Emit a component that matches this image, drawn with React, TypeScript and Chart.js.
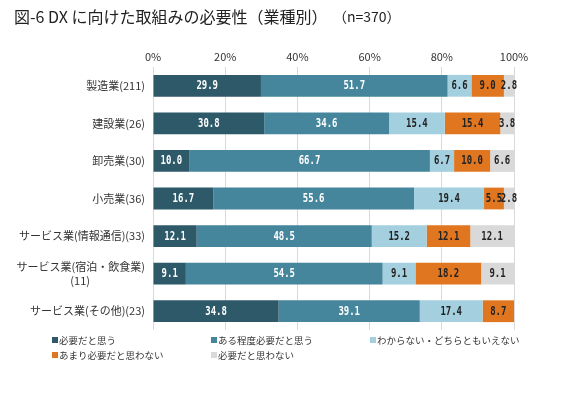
import React, { useEffect, useRef } from "react";
import { Chart, registerables } from "chart.js";

Chart.register(...registerables);

const categories: (string | string[])[] = [
  "製造業(211)",
  "建設業(26)",
  "卸売業(30)",
  "小売業(36)",
  "サービス業(情報通信)(33)",
  ["サービス業(宿泊・飲食業)", "(11)　　　　　"],
  "サービス業(その他)(23)",
];
const seriesNames = [
  "必要だと思う",
  "ある程度必要だと思う",
  "わからない・どちらともいえない",
  "あまり必要だと思わない",
  "必要だと思わない",
];
const needed = [29.9, 30.8, 10.0, 16.7, 12.1, 9.1, 34.8];
const somewhatNeeded = [51.7, 34.6, 66.7, 55.6, 48.5, 54.5, 39.1];
const unsure = [6.6, 15.4, 6.7, 19.4, 15.2, 9.1, 17.4];
const notReally = [9.0, 15.4, 10.0, 5.5, 12.1, 18.2, 8.7];
const notNeeded = [2.8, 3.8, 6.6, 2.8, 12.1, 9.1, 0];
const xTickValues = [0, 20, 40, 60, 80, 100];

const titleText = "図-6 DX に向けた取組みの必要性（業種別）";
const subtitleText = "（n=370）";

const colors = ["#2d5969", "#45869d", "#a4cfdf", "#e0761f", "#d9d9d9"];
const labelColors = ["#ffffff", "#ffffff", "#222222", "#222222", "#222222"];

const JP = '"Noto Sans CJK JP", "Noto Sans", sans-serif';
const NUM = '"DejaVu Sans Mono", monospace';

const dataLabelPlugin = {
  id: "dataLabels",
  afterDatasetsDraw(chart: any) {
    const ctx = chart.ctx;
    chart.data.datasets.forEach((ds: any, di: number) => {
      const meta = chart.getDatasetMeta(di);
      meta.data.forEach((bar: any, i: number) => {
        const v = ds.data[i];
        if (!v) return;
        const cx = (bar.x + bar.base) / 2;
        ctx.save();
        ctx.font = `bold 11.5px ${NUM}`;
        ctx.textAlign = "center";
        ctx.textBaseline = "middle";
        ctx.fillStyle = labelColors[di];
        ctx.translate(cx, bar.y + 0.5);
        ctx.scale(0.78, 1);
        ctx.fillText(v.toFixed(1), 0, 0);
        ctx.restore();
      });
    });
  },
};

const titleLegendPlugin = {
  id: "titleLegend",
  afterDraw(chart: any) {
    const ctx = chart.ctx;
    ctx.save();
    ctx.fillStyle = "#222222";
    ctx.textBaseline = "middle";
    ctx.textAlign = "left";
    ctx.font = `16px ${JP}`;
    ctx.fillText(titleText, 14, 17);
    ctx.font = `14px ${JP}`;
    ctx.fillText(subtitleText, 333, 17);

    const cols = [52, 211, 370];
    const rows = [340, 355];
    ctx.font = `9.5px ${JP}`;
    seriesNames.forEach((name, i) => {
      const x = cols[i % 3];
      const y = rows[Math.floor(i / 3)];
      ctx.fillStyle = colors[i];
      ctx.fillRect(x, y - 3, 6, 6);
      ctx.fillStyle = "#333333";
      ctx.fillText(name, x + 7, y);
    });
    ctx.restore();
  },
};

export default function App() {
  const ref = useRef<HTMLCanvasElement>(null);
  useEffect(() => {
    document.body.style.margin = "0";
    const datasetsData = [needed, somewhatNeeded, unsure, notReally, notNeeded];
    const chart = new Chart(ref.current as HTMLCanvasElement, {
      type: "bar",
      data: {
        labels: categories as any,
        datasets: datasetsData.map((d, i) => ({
          label: seriesNames[i],
          data: d,
          backgroundColor: colors[i],
          borderWidth: 0,
          categoryPercentage: 1,
          barPercentage: 0.58,
        })),
      },
      options: {
        indexAxis: "y",
        responsive: false,
        animation: false,
        devicePixelRatio: 1,
        layout: { padding: { left: 0, right: 63, top: 0, bottom: 65 } },
        plugins: {
          legend: { display: false },
          title: { display: false },
          tooltip: { enabled: false },
        },
        scales: {
          x: {
            position: "top",
            stacked: true,
            min: 0,
            max: 100,
            afterBuildTicks: (scale: any) => {
              scale.ticks = xTickValues.map((v) => ({ value: v }));
            },
            afterFit: (scale: any) => {
              scale.height = 67;
            },
            grid: { color: "#d9d9d9", lineWidth: 1, drawTicks: false },
            border: { display: false },
            ticks: {
              padding: 4,
              color: "#333333",
              font: { family: JP, size: 11 },
              callback: (v: any) => `${v}%`,
            },
          },
          y: {
            stacked: true,
            afterFit: (scale: any) => {
              scale.width = 153;
            },
            grid: { display: false, drawTicks: false },
            border: { display: false },
            ticks: {
              padding: 8,
              color: "#333333",
              font: { family: JP, size: 11, lineHeight: 1.25 },
            },
          },
        },
      },
      plugins: [dataLabelPlugin, titleLegendPlugin],
    });
    return () => chart.destroy();
  }, []);
  return (
    <div style={{ width: 577, height: 395, position: "relative" }}>
      <canvas ref={ref} width={577} height={395} />
    </div>
  );
}
